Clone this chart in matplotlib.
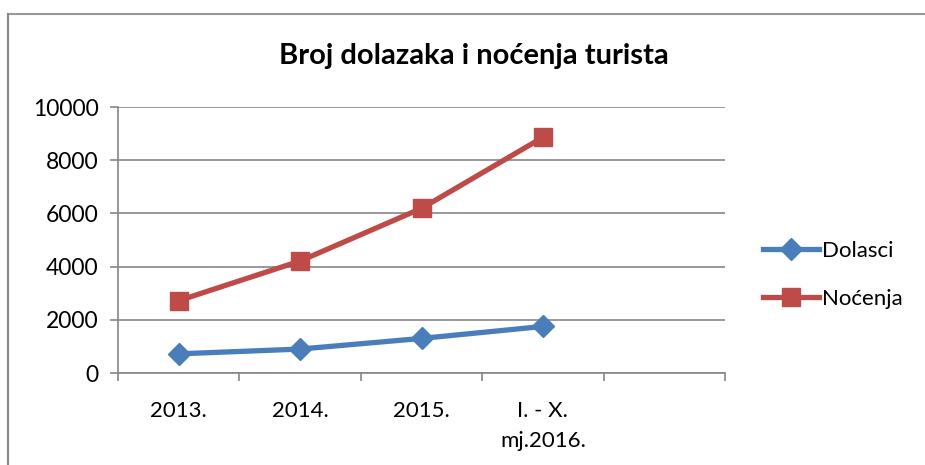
import numpy as np
import matplotlib
matplotlib.use("Agg")
import matplotlib.pyplot as plt
from matplotlib.lines import Line2D

plt.rcParams["font.family"] = ["Lato", "DejaVu Sans"]

categories = ["2013.", "2014.", "2015.", "I. - X.\nmj.2016."]
dolasci = [720, 900, 1300, 1750]
nocenja = [2720, 4210, 6190, 8860]
y_ticks = [0, 2000, 4000, 6000, 8000, 10000]

BLUE = "#4A7EBB"
RED = "#BE4B48"
GRID = "#868686"

W, H = 925, 465
fig = plt.figure(figsize=(W / 100, H / 100), dpi=100)
ax = fig.add_axes([118 / W, 1 - 373 / H, (725 - 118) / W, (373 - 107) / H])

x = np.arange(len(categories))
ax.plot(x, dolasci, color=BLUE, lw=3.8, marker="D", ms=11, mec=BLUE, label="Dolasci",
        solid_capstyle="round", zorder=3)
ax.plot(x, nocenja, color=RED, lw=3.8, marker="s", ms=13, mec=RED, label="Noćenja",
        solid_capstyle="round", zorder=3)

# five category slots, the last one empty
ax.set_xlim(-0.5, 4.5)
ax.set_ylim(0, 10000)
ax.set_yticks(y_ticks)
ax.set_yticklabels([str(v) for v in y_ticks])
ax.set_xticks(x)
ax.set_xticklabels(categories, va="top", ha="center", linespacing=1.65)
ax.set_xticks(np.arange(-0.5, 5.0, 1.0), minor=True)
ax.tick_params(axis="x", which="major", length=0, pad=20, labelsize=16)
ax.tick_params(axis="x", which="minor", length=6, width=1.2, color=GRID, direction="out")
ax.tick_params(axis="y", length=6, width=1.2, color=GRID, direction="out", pad=8,
               labelsize=16.5)
ax.yaxis.grid(True, color=GRID, lw=1.2)
ax.set_axisbelow(True)
for side in ["top", "right"]:
    ax.spines[side].set_visible(False)
for side in ["left", "bottom"]:
    ax.spines[side].set_color(GRID)
    ax.spines[side].set_linewidth(1.2)

fig.text(474 / W, 1 - 56 / H, "Broj dolazaka i noćenja turista", ha="center", va="center",
         fontsize=21, fontweight="bold")

handles = [
    Line2D([], [], color=BLUE, lw=3.8, marker="D", ms=11, mec=BLUE),
    Line2D([], [], color=RED, lw=3.8, marker="s", ms=13, mec=RED),
]
fig.legend(handles, ["Dolasci", "Noćenja"], loc="center left",
           bbox_to_anchor=(752 / W, 1 - 275 / H), frameon=False, fontsize=16,
           handlelength=2.5, handletextpad=0.15, labelspacing=1.25, borderpad=0)

# outer chart frame (only top and left edges visible in the crop)
fig.add_artist(Line2D([8 / W, 1.0], [1 - 14 / H, 1 - 14 / H], color="#999999", lw=1.5))
fig.add_artist(Line2D([8 / W, 8 / W], [0.0, 1 - 14 / H], color="#888888", lw=1.5))

fig.savefig("out.png", dpi=100)
